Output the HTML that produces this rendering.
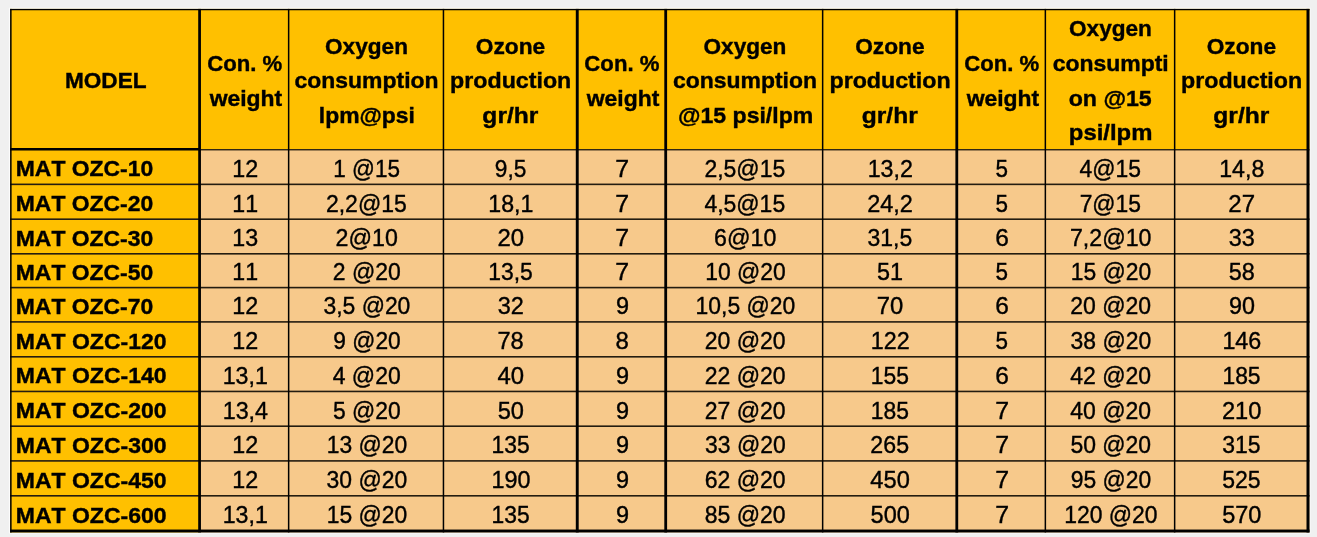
<!DOCTYPE html>
<html lang="en"><head><meta charset="utf-8"><title>Ozone generator models</title>
<style>
html,body{margin:0;padding:0;background:#f0f0f0;}
body{width:1317px;height:537px;overflow:hidden;}
svg{display:block;}
text{font-family:"Liberation Sans",sans-serif;font-size:24.2px;fill:#000;white-space:pre;font-kerning:none;stroke:#000;stroke-width:0.4px;}
.b{font-weight:bold;font-size:22.9px;}
.m{font-weight:bold;font-size:22.8px;}
</style></head><body>
<svg width="1317" height="537" viewBox="0 0 1317 537">
<rect x="8.90" y="7.70" width="1301.60" height="525.75" fill="#fcfcfc"/>
<rect x="10.10" y="8.90" width="1300.40" height="524.55" fill="#f5f5f5"/>
<rect x="10.10" y="8.90" width="1299.40" height="140.60" fill="#ffc000"/>
<rect x="10.10" y="149.50" width="189.40" height="382.95" fill="#ffc000"/>
<rect x="199.50" y="149.50" width="1110.00" height="382.95" fill="#f7c98b"/>
<rect x="10.10" y="8.90" width="1299.40" height="1.35" fill="#000"/>
<rect x="10.10" y="529.55" width="1299.40" height="2.90" fill="#000"/>
<rect x="10.10" y="148.00" width="189.50" height="2.50" fill="#000"/>
<rect x="199.50" y="149.10" width="1110.00" height="1.30" fill="#1a1408"/>
<rect x="10.10" y="183.55" width="1299.40" height="1.60" fill="#241c10"/>
<rect x="10.10" y="218.40" width="1299.40" height="1.60" fill="#241c10"/>
<rect x="10.10" y="253.00" width="1299.40" height="1.60" fill="#241c10"/>
<rect x="10.10" y="286.80" width="1299.40" height="1.60" fill="#241c10"/>
<rect x="10.10" y="321.10" width="1299.40" height="1.60" fill="#241c10"/>
<rect x="10.10" y="356.00" width="1299.40" height="1.60" fill="#241c10"/>
<rect x="10.10" y="390.65" width="1299.40" height="1.60" fill="#241c10"/>
<rect x="10.10" y="425.40" width="1299.40" height="1.60" fill="#241c10"/>
<rect x="10.10" y="460.10" width="1299.40" height="1.60" fill="#241c10"/>
<rect x="10.10" y="495.00" width="1299.40" height="1.60" fill="#241c10"/>
<rect x="10.10" y="8.90" width="1.50" height="523.55" fill="#000"/>
<rect x="198.20" y="8.90" width="2.75" height="523.55" fill="#000"/>
<rect x="287.90" y="8.90" width="1.50" height="523.55" fill="#000"/>
<rect x="442.70" y="8.90" width="1.50" height="523.55" fill="#000"/>
<rect x="575.80" y="8.90" width="2.90" height="523.55" fill="#000"/>
<rect x="664.30" y="8.90" width="2.80" height="523.55" fill="#000"/>
<rect x="821.90" y="8.90" width="1.50" height="523.55" fill="#000"/>
<rect x="955.40" y="8.90" width="2.80" height="523.55" fill="#000"/>
<rect x="1044.60" y="8.90" width="1.50" height="523.55" fill="#000"/>
<rect x="1173.90" y="8.90" width="1.50" height="523.55" fill="#000"/>
<rect x="1306.50" y="8.90" width="3.00" height="523.55" fill="#000"/>
<text x="64.92" y="88.24" textLength="81.68" lengthAdjust="spacingAndGlyphs" class="b">MODEL</text>
<text x="207.28" y="70.90" textLength="75.05" lengthAdjust="spacingAndGlyphs" class="b">Con. %</text>
<text x="209.71" y="105.58" textLength="72.52" lengthAdjust="spacingAndGlyphs" class="b">weight</text>
<text x="325.06" y="53.56" textLength="82.89" lengthAdjust="spacingAndGlyphs" class="b">Oxygen</text>
<text x="294.61" y="88.24" textLength="143.92" lengthAdjust="spacingAndGlyphs" class="b">consumption</text>
<text x="318.84" y="122.92" textLength="96.06" lengthAdjust="spacingAndGlyphs" class="b">lpm@psi</text>
<text x="475.73" y="53.56" textLength="69.43" lengthAdjust="spacingAndGlyphs" class="b">Ozone</text>
<text x="450.11" y="88.24" textLength="121.12" lengthAdjust="spacingAndGlyphs" class="b">production</text>
<text x="482.39" y="122.92" textLength="55.98" lengthAdjust="spacingAndGlyphs" class="b">gr/hr</text>
<text x="584.36" y="70.90" textLength="75.05" lengthAdjust="spacingAndGlyphs" class="b">Con. %</text>
<text x="586.79" y="105.58" textLength="72.52" lengthAdjust="spacingAndGlyphs" class="b">weight</text>
<text x="703.51" y="53.56" textLength="82.89" lengthAdjust="spacingAndGlyphs" class="b">Oxygen</text>
<text x="673.06" y="88.24" textLength="143.92" lengthAdjust="spacingAndGlyphs" class="b">consumption</text>
<text x="678.08" y="122.92" textLength="135.13" lengthAdjust="spacingAndGlyphs" class="b">@15 psi/lpm</text>
<text x="855.13" y="53.56" textLength="69.43" lengthAdjust="spacingAndGlyphs" class="b">Ozone</text>
<text x="829.51" y="88.24" textLength="121.12" lengthAdjust="spacingAndGlyphs" class="b">production</text>
<text x="861.79" y="122.92" textLength="55.98" lengthAdjust="spacingAndGlyphs" class="b">gr/hr</text>
<text x="964.26" y="70.90" textLength="75.05" lengthAdjust="spacingAndGlyphs" class="b">Con. %</text>
<text x="966.69" y="105.58" textLength="72.52" lengthAdjust="spacingAndGlyphs" class="b">weight</text>
<text x="1069.01" y="36.22" textLength="82.89" lengthAdjust="spacingAndGlyphs" class="b">Oxygen</text>
<text x="1052.70" y="70.90" textLength="116.02" lengthAdjust="spacingAndGlyphs" class="b">consumpti</text>
<text x="1068.66" y="105.58" textLength="83.08" lengthAdjust="spacingAndGlyphs" class="b">on @15</text>
<text x="1068.85" y="140.26" textLength="83.58" lengthAdjust="spacingAndGlyphs" class="b">psi/lpm</text>
<text x="1206.68" y="53.56" textLength="69.43" lengthAdjust="spacingAndGlyphs" class="b">Ozone</text>
<text x="1181.06" y="88.24" textLength="121.12" lengthAdjust="spacingAndGlyphs" class="b">production</text>
<text x="1213.34" y="122.92" textLength="55.98" lengthAdjust="spacingAndGlyphs" class="b">gr/hr</text>
<text x="15.79" y="176.35" textLength="137.40" lengthAdjust="spacingAndGlyphs" class="m">MAT OZC-10</text>
<text x="232.32" y="176.75" textLength="25.93" lengthAdjust="spacingAndGlyphs">12</text>
<text x="333.26" y="176.75" textLength="66.68" lengthAdjust="spacingAndGlyphs">1 @15</text>
<text x="494.85" y="176.75" textLength="31.49" lengthAdjust="spacingAndGlyphs">9,5</text>
<text x="615.37" y="176.75" textLength="13.83" lengthAdjust="spacingAndGlyphs">7</text>
<text x="704.43" y="176.75" textLength="80.75" lengthAdjust="spacingAndGlyphs">2,5@15</text>
<text x="867.65" y="176.75" textLength="45.22" lengthAdjust="spacingAndGlyphs">13,2</text>
<text x="995.58" y="176.75" textLength="12.50" lengthAdjust="spacingAndGlyphs">5</text>
<text x="1079.54" y="176.75" textLength="61.49" lengthAdjust="spacingAndGlyphs">4@15</text>
<text x="1219.20" y="176.75" textLength="45.11" lengthAdjust="spacingAndGlyphs">14,8</text>
<text x="15.79" y="211.20" textLength="137.40" lengthAdjust="spacingAndGlyphs" class="m">MAT OZC-20</text>
<text x="232.32" y="211.60" textLength="25.79" lengthAdjust="spacingAndGlyphs">11</text>
<text x="325.98" y="211.60" textLength="80.75" lengthAdjust="spacingAndGlyphs">2,2@15</text>
<text x="488.25" y="211.60" textLength="45.09" lengthAdjust="spacingAndGlyphs">18,1</text>
<text x="615.37" y="211.60" textLength="13.83" lengthAdjust="spacingAndGlyphs">7</text>
<text x="704.39" y="211.60" textLength="80.80" lengthAdjust="spacingAndGlyphs">4,5@15</text>
<text x="867.17" y="211.60" textLength="45.72" lengthAdjust="spacingAndGlyphs">24,2</text>
<text x="995.58" y="211.60" textLength="12.50" lengthAdjust="spacingAndGlyphs">5</text>
<text x="1079.64" y="211.60" textLength="61.38" lengthAdjust="spacingAndGlyphs">7@15</text>
<text x="1228.34" y="211.60" textLength="26.72" lengthAdjust="spacingAndGlyphs">27</text>
<text x="15.79" y="245.80" textLength="137.40" lengthAdjust="spacingAndGlyphs" class="m">MAT OZC-30</text>
<text x="232.32" y="246.20" textLength="25.86" lengthAdjust="spacingAndGlyphs">13</text>
<text x="335.62" y="246.20" textLength="62.24" lengthAdjust="spacingAndGlyphs">2@10</text>
<text x="497.40" y="246.20" textLength="26.58" lengthAdjust="spacingAndGlyphs">20</text>
<text x="615.37" y="246.20" textLength="13.83" lengthAdjust="spacingAndGlyphs">7</text>
<text x="714.07" y="246.20" textLength="62.24" lengthAdjust="spacingAndGlyphs">6@10</text>
<text x="867.52" y="246.20" textLength="44.70" lengthAdjust="spacingAndGlyphs">31,5</text>
<text x="995.23" y="246.20" textLength="13.62" lengthAdjust="spacingAndGlyphs">6</text>
<text x="1069.97" y="246.20" textLength="81.49" lengthAdjust="spacingAndGlyphs">7,2@10</text>
<text x="1228.71" y="246.20" textLength="26.01" lengthAdjust="spacingAndGlyphs">33</text>
<text x="15.79" y="279.60" textLength="137.40" lengthAdjust="spacingAndGlyphs" class="m">MAT OZC-50</text>
<text x="232.32" y="280.00" textLength="25.79" lengthAdjust="spacingAndGlyphs">11</text>
<text x="332.75" y="280.00" textLength="67.98" lengthAdjust="spacingAndGlyphs">2 @20</text>
<text x="488.27" y="280.00" textLength="44.54" lengthAdjust="spacingAndGlyphs">13,5</text>
<text x="615.37" y="280.00" textLength="13.83" lengthAdjust="spacingAndGlyphs">7</text>
<text x="705.22" y="280.00" textLength="80.42" lengthAdjust="spacingAndGlyphs">10 @20</text>
<text x="877.08" y="280.00" textLength="26.02" lengthAdjust="spacingAndGlyphs">51</text>
<text x="995.58" y="280.00" textLength="12.50" lengthAdjust="spacingAndGlyphs">5</text>
<text x="1070.72" y="280.00" textLength="80.42" lengthAdjust="spacingAndGlyphs">15 @20</text>
<text x="1228.63" y="280.00" textLength="26.03" lengthAdjust="spacingAndGlyphs">58</text>
<text x="15.79" y="313.90" textLength="137.40" lengthAdjust="spacingAndGlyphs" class="m">MAT OZC-70</text>
<text x="232.32" y="314.30" textLength="25.93" lengthAdjust="spacingAndGlyphs">12</text>
<text x="323.43" y="314.30" textLength="86.95" lengthAdjust="spacingAndGlyphs">3,5 @20</text>
<text x="497.75" y="314.30" textLength="26.08" lengthAdjust="spacingAndGlyphs">32</text>
<text x="615.96" y="314.30" textLength="13.04" lengthAdjust="spacingAndGlyphs">9</text>
<text x="695.56" y="314.30" textLength="99.73" lengthAdjust="spacingAndGlyphs">10,5 @20</text>
<text x="876.85" y="314.30" textLength="26.52" lengthAdjust="spacingAndGlyphs">70</text>
<text x="995.23" y="314.30" textLength="13.62" lengthAdjust="spacingAndGlyphs">6</text>
<text x="1070.23" y="314.30" textLength="80.91" lengthAdjust="spacingAndGlyphs">20 @20</text>
<text x="1228.95" y="314.30" textLength="25.95" lengthAdjust="spacingAndGlyphs">90</text>
<text x="15.78" y="348.80" textLength="150.75" lengthAdjust="spacingAndGlyphs" class="m">MAT OZC-120</text>
<text x="232.32" y="349.20" textLength="25.93" lengthAdjust="spacingAndGlyphs">12</text>
<text x="333.34" y="349.20" textLength="67.39" lengthAdjust="spacingAndGlyphs">9 @20</text>
<text x="497.47" y="349.20" textLength="26.26" lengthAdjust="spacingAndGlyphs">78</text>
<text x="615.42" y="349.20" textLength="13.35" lengthAdjust="spacingAndGlyphs">8</text>
<text x="704.73" y="349.20" textLength="80.91" lengthAdjust="spacingAndGlyphs">20 @20</text>
<text x="870.83" y="349.20" textLength="38.86" lengthAdjust="spacingAndGlyphs">122</text>
<text x="995.58" y="349.20" textLength="12.50" lengthAdjust="spacingAndGlyphs">5</text>
<text x="1070.57" y="349.20" textLength="80.58" lengthAdjust="spacingAndGlyphs">38 @20</text>
<text x="1222.38" y="349.20" textLength="38.90" lengthAdjust="spacingAndGlyphs">146</text>
<text x="15.78" y="383.45" textLength="150.75" lengthAdjust="spacingAndGlyphs" class="m">MAT OZC-140</text>
<text x="222.68" y="383.85" textLength="45.09" lengthAdjust="spacingAndGlyphs">13,1</text>
<text x="332.71" y="383.85" textLength="68.03" lengthAdjust="spacingAndGlyphs">4 @20</text>
<text x="497.38" y="383.85" textLength="26.60" lengthAdjust="spacingAndGlyphs">40</text>
<text x="615.96" y="383.85" textLength="13.04" lengthAdjust="spacingAndGlyphs">9</text>
<text x="704.73" y="383.85" textLength="80.91" lengthAdjust="spacingAndGlyphs">22 @20</text>
<text x="870.86" y="383.85" textLength="38.17" lengthAdjust="spacingAndGlyphs">155</text>
<text x="995.23" y="383.85" textLength="13.62" lengthAdjust="spacingAndGlyphs">6</text>
<text x="1070.19" y="383.85" textLength="80.96" lengthAdjust="spacingAndGlyphs">42 @20</text>
<text x="1222.41" y="383.85" textLength="38.17" lengthAdjust="spacingAndGlyphs">185</text>
<text x="15.78" y="418.20" textLength="150.75" lengthAdjust="spacingAndGlyphs" class="m">MAT OZC-200</text>
<text x="222.66" y="418.60" textLength="45.41" lengthAdjust="spacingAndGlyphs">13,4</text>
<text x="333.01" y="418.60" textLength="67.72" lengthAdjust="spacingAndGlyphs">5 @20</text>
<text x="497.67" y="418.60" textLength="26.29" lengthAdjust="spacingAndGlyphs">50</text>
<text x="615.96" y="418.60" textLength="13.04" lengthAdjust="spacingAndGlyphs">9</text>
<text x="704.73" y="418.60" textLength="80.91" lengthAdjust="spacingAndGlyphs">27 @20</text>
<text x="870.86" y="418.60" textLength="38.17" lengthAdjust="spacingAndGlyphs">185</text>
<text x="995.27" y="418.60" textLength="13.83" lengthAdjust="spacingAndGlyphs">7</text>
<text x="1070.19" y="418.60" textLength="80.96" lengthAdjust="spacingAndGlyphs">40 @20</text>
<text x="1221.90" y="418.60" textLength="39.48" lengthAdjust="spacingAndGlyphs">210</text>
<text x="15.78" y="452.90" textLength="150.75" lengthAdjust="spacingAndGlyphs" class="m">MAT OZC-300</text>
<text x="232.32" y="453.30" textLength="25.93" lengthAdjust="spacingAndGlyphs">12</text>
<text x="326.77" y="453.30" textLength="80.42" lengthAdjust="spacingAndGlyphs">13 @20</text>
<text x="491.46" y="453.30" textLength="38.17" lengthAdjust="spacingAndGlyphs">135</text>
<text x="615.96" y="453.30" textLength="13.04" lengthAdjust="spacingAndGlyphs">9</text>
<text x="705.07" y="453.30" textLength="80.58" lengthAdjust="spacingAndGlyphs">33 @20</text>
<text x="870.37" y="453.30" textLength="38.67" lengthAdjust="spacingAndGlyphs">265</text>
<text x="995.27" y="453.30" textLength="13.83" lengthAdjust="spacingAndGlyphs">7</text>
<text x="1070.49" y="453.30" textLength="80.65" lengthAdjust="spacingAndGlyphs">50 @20</text>
<text x="1222.26" y="453.30" textLength="38.32" lengthAdjust="spacingAndGlyphs">315</text>
<text x="15.78" y="487.80" textLength="150.75" lengthAdjust="spacingAndGlyphs" class="m">MAT OZC-450</text>
<text x="232.32" y="488.20" textLength="25.93" lengthAdjust="spacingAndGlyphs">12</text>
<text x="326.62" y="488.20" textLength="80.58" lengthAdjust="spacingAndGlyphs">30 @20</text>
<text x="491.42" y="488.20" textLength="38.99" lengthAdjust="spacingAndGlyphs">190</text>
<text x="615.96" y="488.20" textLength="13.04" lengthAdjust="spacingAndGlyphs">9</text>
<text x="704.73" y="488.20" textLength="80.91" lengthAdjust="spacingAndGlyphs">62 @20</text>
<text x="870.32" y="488.20" textLength="39.51" lengthAdjust="spacingAndGlyphs">450</text>
<text x="995.27" y="488.20" textLength="13.83" lengthAdjust="spacingAndGlyphs">7</text>
<text x="1070.82" y="488.20" textLength="80.32" lengthAdjust="spacingAndGlyphs">95 @20</text>
<text x="1222.18" y="488.20" textLength="38.40" lengthAdjust="spacingAndGlyphs">525</text>
<text x="15.78" y="522.60" textLength="150.75" lengthAdjust="spacingAndGlyphs" class="m">MAT OZC-600</text>
<text x="222.68" y="523.00" textLength="45.09" lengthAdjust="spacingAndGlyphs">13,1</text>
<text x="326.77" y="523.00" textLength="80.42" lengthAdjust="spacingAndGlyphs">15 @20</text>
<text x="491.46" y="523.00" textLength="38.17" lengthAdjust="spacingAndGlyphs">135</text>
<text x="615.96" y="523.00" textLength="13.04" lengthAdjust="spacingAndGlyphs">9</text>
<text x="704.79" y="523.00" textLength="80.85" lengthAdjust="spacingAndGlyphs">85 @20</text>
<text x="870.61" y="523.00" textLength="39.21" lengthAdjust="spacingAndGlyphs">500</text>
<text x="995.27" y="523.00" textLength="13.83" lengthAdjust="spacingAndGlyphs">7</text>
<text x="1064.25" y="523.00" textLength="93.36" lengthAdjust="spacingAndGlyphs">120 @20</text>
<text x="1222.16" y="523.00" textLength="39.21" lengthAdjust="spacingAndGlyphs">570</text>
</svg>
</body></html>
